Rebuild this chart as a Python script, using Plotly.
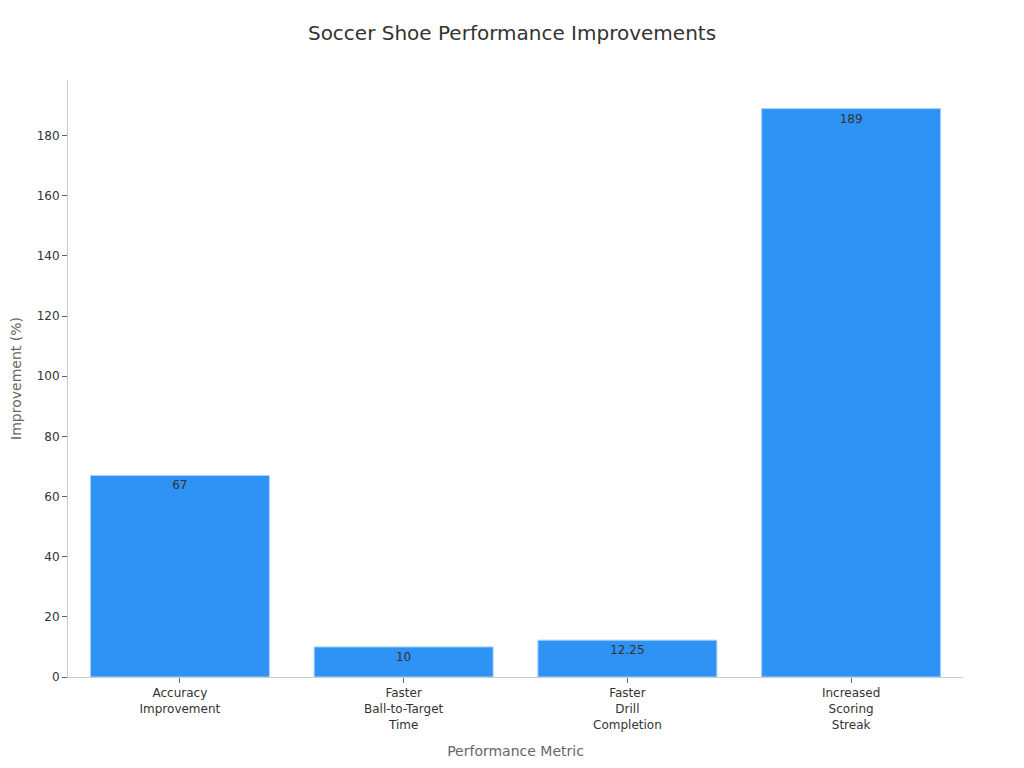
import plotly.graph_objects as go

# Data
metrics = ['Accuracy<br>Improvement', 'Faster<br>Ball-to-Target<br>Time',
           'Faster<br>Drill<br>Completion', 'Increased<br>Scoring<br>Streak']
improvement = [67, 10, 12.25, 189]

fig = go.Figure(go.Bar(
    x=metrics, y=improvement,
    text=[str(v) for v in improvement],
    textposition='inside', insidetextanchor='end',
    textfont=dict(color='#333333', size=12),
    marker=dict(color='#2f92f5', line=dict(color='#a8d2fb', width=1)),
))

fig.update_layout(
    title=dict(text='Soccer Shoe Performance Improvements', x=0.4922, y=0.9674,
               xanchor='center', yanchor='middle',
               font=dict(size=20, color='#333333')),
    font=dict(family='DejaVu Sans', size=12, color='#333333'),
    width=1024, height=768,
    margin=dict(l=60, r=69, t=72, b=99),
    plot_bgcolor='white', paper_bgcolor='white',
    bargap=0.2, showlegend=False,
)
fig.update_xaxes(
    title=dict(text='Performance Metric', font=dict(size=14, color='#666666')),
    showline=True, linecolor='#cccccc', ticks='outside', ticklen=5,
    tickcolor='#666666', showgrid=False, automargin=False,
)
fig.update_yaxes(
    title=dict(text='Improvement (%)', font=dict(size=14, color='#666666')),
    range=[0, 198.5], dtick=20, automargin=False,
    showline=True, linecolor='#cccccc', ticks='outside', ticklen=5,
    tickcolor='#666666', showgrid=False, zeroline=False,
)

fig.write_html('out.html')
